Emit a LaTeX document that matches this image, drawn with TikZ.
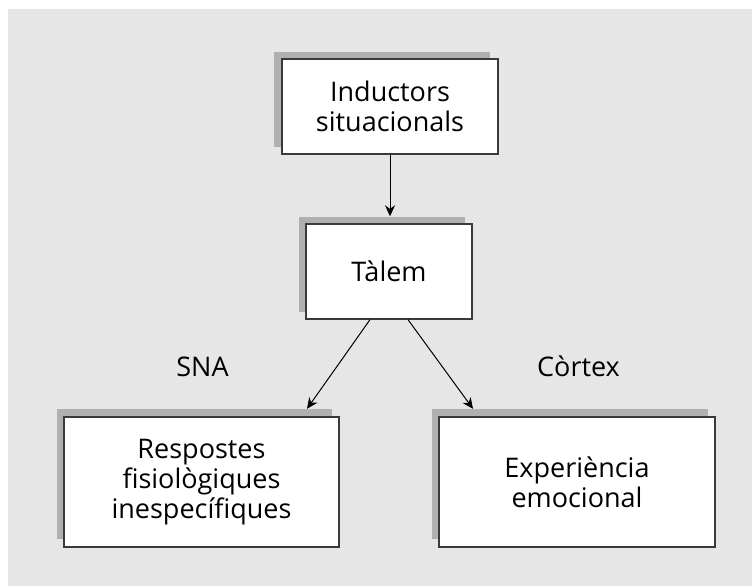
\documentclass[tikz,border=0pt]{standalone}
\usepackage{fontspec}
\setmainfont{Open Sans}
\usetikzlibrary{arrows.meta,positioning,calc}
\definecolor{panel}{HTML}{E6E6E6}
\definecolor{shade}{HTML}{B0B0B0}
\definecolor{edge}{HTML}{3A3A3A}
\tikzset{
  box/.style={draw=edge,line width=1.3pt,fill=white,inner sep=0pt,
    align=center,font=\fontsize{27}{30}\selectfont},
  boxshade/.style={fill=shade,draw=none,inner sep=0pt},
  flow/.style={-{Stealth[length=11pt,width=10pt]},line width=1pt,black},
  tag/.style={font=\fontsize{27}{30}\selectfont,anchor=base,inner sep=0pt}
}
\begin{document}
\begin{tikzpicture}[x=1pt,y=-1pt]
  % page and panel
  \fill[white] (0,0) rectangle (752,586);
  \fill[panel] (8,9) rectangle (752,586);
  \useasboundingbox (0,0) rectangle (752,586);

  % shadows (offset up-left)
  \node[boxshade,minimum width=216pt,minimum height=95pt] (b1s) at (382,99.5) {};
  \node[boxshade,minimum width=166pt,minimum height=95pt] (b2s) at (382,264) {};
  \node[boxshade,minimum width=275pt,minimum height=130pt] (b3s) at (194.5,474) {};
  \node[boxshade,minimum width=276pt,minimum height=130pt] (b4s) at (570,474) {};

  % boxes
  \node[box,minimum width=216pt,minimum height=95pt] (b1) at (390,106.5)
    {Inductors\\situacionals};
  \node[box,minimum width=166pt,minimum height=95pt] (b2) at (389,271.5)
    {Tàlem};
  \node[box,minimum width=275pt,minimum height=130pt] (b3) at (201.5,482)
    {Respostes\\fisiològiques\\inespecífiques};
  \node[box,minimum width=276pt,minimum height=130pt] (b4) at (577,482)
    {Experiència\\emocional};

  % labels on the branches
  \node[tag] (sna) at (202.5,376) {SNA};
  \node[tag,anchor=base east] (ctx) at (620,376) {Còrtex};

  % connectors
  \draw[flow] (b1.south) -- (b1.south |- b2s.north);
  \draw[flow] ([xshift=-19pt]b2.south) -- ([xshift=112.5pt]b3s.north);
  \draw[flow] ([xshift=19pt]b2.south) -- ([xshift=-97pt]b4s.north);
\end{tikzpicture}
\end{document}
